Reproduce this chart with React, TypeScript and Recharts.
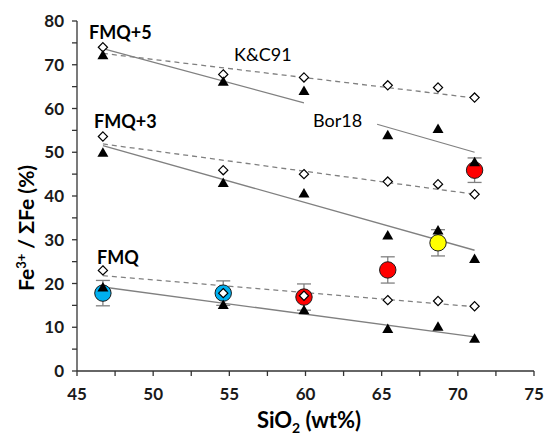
import { ScatterChart, Scatter, XAxis, YAxis, ErrorBar, Cell } from 'recharts';

// SiO2 of the six starting compositions (wt%)
const silica = [46.7, 54.6, 59.9, 65.4, 68.7, 71.1];

// Kress & Carmichael (1991) model, Fe3+/ΣFe (%)
const kc91Fmq5 = [74.0, 67.8, 67.1, 65.3, 64.8, 62.5];
const kc91Fmq3 = [53.6, 45.9, 45.0, 43.3, 42.7, 40.4];
const kc91Fmq = [23.0, 17.8, 17.2, 16.2, 16.0, 14.8];

// Borisov et al. (2018) model
const bor18Fmq5 = [72.2, 66.1, 64.0, 53.9, 55.3, 47.7];
const bor18Fmq3 = [49.9, 43.0, 40.6, 31.0, 32.1, 25.6];
const bor18Fmq = [19.1, 15.1, 13.9, 9.6, 10.1, 7.4];

// measured samples
const sampleFe3 = [17.8, 17.8, 16.9, 23.1, 29.3, 45.9];
const sampleErr = [2.9, 2.8, 3.0, 3.0, 3.0, 2.8];
const sampleColors = ['#00b0f0', '#00b0f0', '#ff0000', '#ff0000', '#ffff00', '#ff0000'];

// trend line end points
const fitX = [46.7, 71.1];
const borFmq5FitAX = [46.7, 59.9];
const borFmq5FitA = [73.7, 61.3];
const borFmq5FitBX = [64.7, 71.1];
const borFmq5FitB = [56.4, 50.0];
const borFmq3Fit = [51.5, 27.6];
const borFmqFit = [19.2, 7.8];
const kcFmq5Fit = [72.6, 62.4];
const kcFmq3Fit = [51.9, 40.4];
const kcFmqFit = [21.8, 14.7];

const xTicks = [45, 47.5, 50, 52.5, 55, 57.5, 60, 62.5, 65, 67.5, 70, 72.5, 75];
const yTicks = [0, 5, 10, 15, 20, 25, 30, 35, 40, 45, 50, 55, 60, 65, 70, 75, 80];

const toPoints = (xs: number[], ys: number[]) => xs.map((x, i) => ({ x, y: ys[i] }));

const samples = silica.map((x, i) => ({ x, y: sampleFe3[i], err: sampleErr[i] }));

const FONT = 'Lato, "Open Sans", sans-serif';
const AXIS = '#333333';
const LINE = '#808080';

const Diamond = (props: any) => {
  const { cx, cy } = props;
  const s = 4.6;
  return (
    <path
      d={`M${cx},${cy - s}L${cx + s},${cy}L${cx},${cy + s}L${cx - s},${cy}Z`}
      fill="#fff"
      stroke="#000"
      strokeWidth={1.2}
    />
  );
};

const Triangle = (props: any) => {
  const { cx, cy } = props;
  return <path d={`M${cx},${cy - 5.5}L${cx + 5.5},${cy + 4}L${cx - 5.5},${cy + 4}Z`} fill="#000" />;
};

const Dot = (props: any) => {
  const { cx, cy, fill } = props;
  return <circle cx={cx} cy={cy} r={8.2} fill={fill} stroke="#1a1a1a" strokeWidth={1} />;
};

const NoShape = () => <g />;

const solid = { stroke: LINE, strokeWidth: 1.3 };
const dashed = { stroke: LINE, strokeWidth: 1.3, strokeDasharray: '5 4' };

const tickStyle = { fontFamily: FONT, fontWeight: 700, fontSize: 17, fill: '#1a1a1a' };

export default function App() {
  return (
    <div style={{ position: 'absolute', left: 0, top: 0, width: 545, height: 435, background: '#fff', fontFamily: FONT }}>
      <ScatterChart width={545} height={435} margin={{ top: 21, right: 11, left: 37, bottom: 34 }}>
        <XAxis
          type="number"
          dataKey="x"
          domain={[45, 75]}
          ticks={xTicks}
          interval={0}
          tickFormatter={(v: number) => (v % 5 === 0 ? String(v) : '')}
          height={30}
          tickSize={5}
          tickMargin={12}
          stroke={AXIS}
          strokeWidth={1.3}
          tick={tickStyle}
        />
        <YAxis
          type="number"
          dataKey="y"
          domain={[0, 80]}
          ticks={yTicks}
          interval={0}
          tickFormatter={(v: number) => (v % 10 === 0 ? String(v) : '')}
          width={40}
          tickSize={5}
          tickMargin={8}
          stroke={AXIS}
          strokeWidth={1.3}
          tick={tickStyle}
        />

        <Scatter data={toPoints(fitX, kcFmq5Fit)} line={dashed} shape={NoShape} isAnimationActive={false} />
        <Scatter data={toPoints(fitX, kcFmq3Fit)} line={dashed} shape={NoShape} isAnimationActive={false} />
        <Scatter data={toPoints(fitX, kcFmqFit)} line={dashed} shape={NoShape} isAnimationActive={false} />
        <Scatter data={toPoints(borFmq5FitAX, borFmq5FitA)} line={solid} shape={NoShape} isAnimationActive={false} />
        <Scatter data={toPoints(borFmq5FitBX, borFmq5FitB)} line={solid} shape={NoShape} isAnimationActive={false} />
        <Scatter data={toPoints(fitX, borFmq3Fit)} line={solid} shape={NoShape} isAnimationActive={false} />
        <Scatter data={toPoints(fitX, borFmqFit)} line={solid} shape={NoShape} isAnimationActive={false} />

        <Scatter data={samples} shape={Dot} isAnimationActive={false}>
          <ErrorBar dataKey="err" direction="y" width={7} stroke={LINE} strokeWidth={1.3} />
          {samples.map((_, i) => (
            <Cell key={i} fill={sampleColors[i]} />
          ))}
        </Scatter>

        <Scatter data={toPoints(silica, kc91Fmq5)} shape={Diamond} isAnimationActive={false} />
        <Scatter data={toPoints(silica, kc91Fmq3)} shape={Diamond} isAnimationActive={false} />
        <Scatter data={toPoints(silica, kc91Fmq)} shape={Diamond} isAnimationActive={false} />
        <Scatter data={toPoints(silica, bor18Fmq5)} shape={Triangle} isAnimationActive={false} />
        <Scatter data={toPoints(silica, bor18Fmq3)} shape={Triangle} isAnimationActive={false} />
        <Scatter data={toPoints(silica, bor18Fmq)} shape={Triangle} isAnimationActive={false} />
      </ScatterChart>

      <svg
        width={545}
        height={435}
        style={{ position: 'absolute', left: 0, top: 0, pointerEvents: 'none' }}
        fontFamily={FONT}
      >
        <text x={89} y={39} fontSize={18} fontWeight={700} fill="#000">FMQ+5</text>
        <text x={94} y={128} fontSize={18} fontWeight={700} fill="#000">FMQ+3</text>
        <text x={97} y={264} fontSize={18} fontWeight={700} fill="#000">FMQ</text>
        <text x={234} y={61} fontSize={18} fill="#000">K&amp;C91</text>
        <text x={313} y={127} fontSize={18} fill="#000">Bor18</text>

        <text x={309} y={428} textAnchor="middle" fontSize={22} fontWeight={700} fill="#000">
          SiO<tspan fontSize={14} dy={5}>2</tspan>
          <tspan dy={-5}> (wt%)</tspan>
        </text>
        <text transform="translate(34,221) rotate(-90)" fontSize={21} fontWeight={700} fill="#000">
          <tspan x={-70}>Fe</tspan>
          <tspan fontSize={13} dy={-8}>3+</tspan>
          <tspan dy={8}> / ΣFe (%)</tspan>
        </text>
      </svg>
    </div>
  );
}
